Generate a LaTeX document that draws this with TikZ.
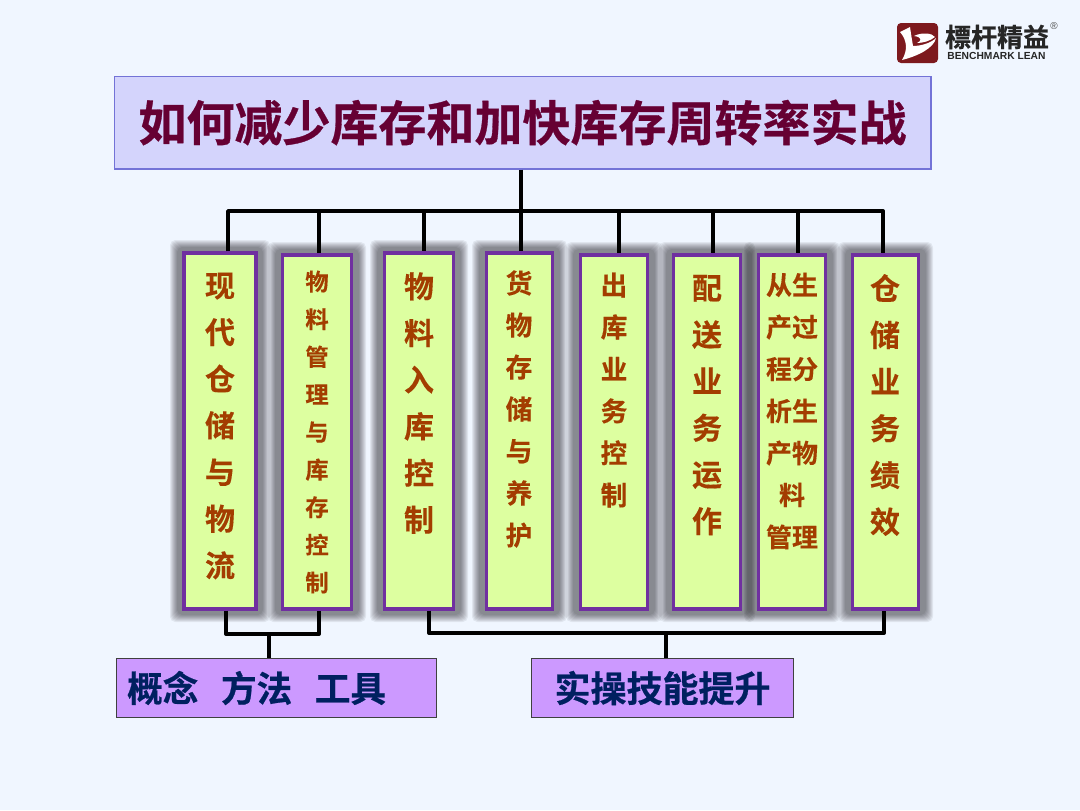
\documentclass[tikz,border=0pt]{standalone}
\usepackage{fontspec}
\setmainfont{Liberation Sans}
\newfontfamily\cjkbold[BoldFont={* Bold},BoldFeatures={FakeBold=0.3}]{Noto Sans CJK SC}
\newfontfamily\cjkheavy[BoldFont={* Bold},BoldFeatures={FakeBold=0.6}]{Noto Sans CJK SC}
\usetikzlibrary{positioning, calc}
\definecolor{cPage}{RGB}{240,246,255}
\definecolor{cTitle}{RGB}{212,212,252}
\definecolor{cTitleEdge}{RGB}{115,115,215}
\definecolor{cTitleText}{RGB}{102,0,51}
\definecolor{cColumn}{RGB}{221,255,160}
\definecolor{cColumnEdge}{RGB}{112,48,160}
\definecolor{cColumnText}{RGB}{163,61,0}
\definecolor{cTag}{RGB}{204,153,255}
\definecolor{cTagText}{RGB}{0,32,96}
\definecolor{cLogo}{RGB}{125,25,30}
\tikzset{
	colbox/.style  ={rectangle, draw=cColumnEdge, line width=2.3pt, fill=cColumn, minimum height=267pt},
	coltext/.style ={align=center, text=cColumnText, inner sep=0pt},
	tagbox/.style  ={rectangle, draw=black!75, line width=0.7pt, fill=cTag, minimum height=44pt, text=cTagText, inner sep=0pt},
	wire/.style    ={line width=2.9pt, draw=black, line join=round},
	halo/.style    ={fill=black, opacity=0.065, rounded corners=4pt},
}
\newcommand{\colfont}[2]{\fontsize{#1}{#2}\selectfont\cjkbold\bfseries}
\newcommand{\heavyfont}[2]{\fontsize{#1}{#2}\selectfont\cjkheavy\bfseries}
\begin{document}
\begin{tikzpicture}[x=0.75pt, y=-0.75pt]
	\useasboundingbox (0,0) rectangle (1080,810);
	\fill[cPage] (0,0) rectangle (1080,810);
	% blurred shadows behind the columns
	\foreach \xa/\xb/\ya in {183/257/253, 281/353/255, 383/455/253, 485/554/253, 579/649/255, 672/742/255, 757/827/255, 851/920/255}{
		\foreach \d in {13,12,11,10,9,8,7,6}{
			\fill[halo] (\xa-\d,\ya-\d) rectangle (\xb+\d,609+\d);
		}
	}
	% title
	\node[rectangle, draw=cTitleEdge, line width=1pt, fill=cTitle, minimum width=612.5pt, minimum height=69.5pt, text=cTitleText, font=\heavyfont{36}{36}, inner sep=0pt] (title) at (522.5,122.5) {\raisebox{-2.5pt}{如何减少库存和加快库存周转率实战}};
	% columns
	\node[colbox, minimum width=54pt] (c1) at (220,431) {};
	\node[colbox, minimum width=52pt, minimum height=265.5pt] (c2) at (317,432) {};
	\node[colbox, minimum width=52pt] (c3) at (419,431) {};
	\node[colbox, minimum width=50pt] (c4) at (519.5,431) {};
	\node[colbox, minimum width=50pt, minimum height=265.5pt] (c5) at (614,432) {};
	\node[colbox, minimum width=50pt, minimum height=265.5pt] (c6) at (707,432) {};
	\node[colbox, minimum width=50pt, minimum height=265.5pt] (c7) at (792,432) {};
	\node[colbox, minimum width=50pt, minimum height=265.5pt] (c8) at (885.5,432) {};
	\node[coltext, font=\colfont{22.5}{35}] (t1) at (220,426) {现\\代\\仓\\储\\与\\物\\流};
	\node[coltext, font=\colfont{17.5}{28.2}] (t2) at (317,432) {物\\料\\管\\理\\与\\库\\存\\控\\制};
	\node[coltext, font=\colfont{22.5}{35}] (t3) at (419,403) {物\\料\\入\\库\\控\\制};
	\node[coltext, font=\colfont{20}{31.5}] (t4) at (519,409) {货\\物\\存\\储\\与\\养\\护};
	\node[coltext, font=\colfont{20}{31.5}] (t5) at (614,390) {出\\库\\业\\务\\控\\制};
	\node[coltext, font=\colfont{22.5}{35}] (t6) at (707,405) {配\\送\\业\\务\\运\\作};
	\node[coltext, font=\colfont{19.5}{31.5}] (t7) at (792,411) {从生\\产过\\程分\\析生\\产物\\料\\管理};
	\node[coltext, font=\colfont{22.5}{35}] (t8) at (885,405) {仓\\储\\业\\务\\绩\\效};
	% lower tags
	\node[tagbox, minimum width=240.5pt, text width=224pt, align=left] (tag1) at (276.5,688) {\heavyfont{26.7}{27}概念\hspace{17pt}方法\hspace{17pt}工具};
	\node[tagbox, minimum width=197pt] (tag2) at (662.5,688) {\heavyfont{27}{27}实操技能提升};
	% top bus
	\coordinate (busL) at (228,211);
	\coordinate (busR) at (883,211);
	\coordinate (bus2) at (319,211);
	\coordinate (bus3) at (424,211);
	\coordinate (bus4) at (521,211);
	\coordinate (bus5) at (619,211);
	\coordinate (bus6) at (713,211);
	\coordinate (bus7) at (798,211);
	\draw[wire] (busL |- c1.north) -- (busL) -- (busR) -- (busR |- c8.north);
	\draw[wire] (bus4 |- title.south) -- (bus4 |- c4.north);
	\draw[wire] (bus2) -- (bus2 |- c2.north);
	\draw[wire] (bus3) -- (bus3 |- c3.north);
	\draw[wire] (bus5) -- (bus5 |- c5.north);
	\draw[wire] (bus6) -- (bus6 |- c6.north);
	\draw[wire] (bus7) -- (bus7 |- c7.north);
	% bottom brackets
	\coordinate (lowA) at (226,634);
	\coordinate (lowB) at (319,634);
	\coordinate (lowC) at (429,633);
	\coordinate (lowD) at (884,633);
	\coordinate (stemA) at (269,634);
	\coordinate (stemB) at (666,633);
	\draw[wire] (lowA |- c1.south) -- (lowA) -- (lowB) -- (lowB |- c2.south);
	\draw[wire] (lowC |- c3.south) -- (lowC) -- (lowD) -- (lowD |- c8.south);
	\draw[wire] (stemA) -- (stemA |- tag1.north);
	\draw[wire] (stemB) -- (stemB |- tag2.north);
	% logo
	\fill[cLogo, rounded corners=3pt] (897,23) rectangle (938,63);
	\fill[white] (900,32) -- (910,27) .. controls (911,34) and (912,40) .. (913,46) .. controls (921,46) and (931,43) .. (936,38) .. controls (934,48) and (918,56) .. (902,60) .. controls (908,50) and (907,40) .. (900,32);
	\fill[white] (914,36) .. controls (922,32) and (932,33) .. (935,37) .. controls (930,41) and (923,43) .. (917,43) .. controls (922,41) and (922,37) .. (914,36);
	\node[text=black!85, font=\heavyfont{19.5}{19.5}] (logotext) at (997,37) {標杆精益};
	\node[text=black!85, font=\fontsize{7.7}{8}\selectfont\bfseries] (logosub) at (996.5,55.5) {BENCHMARK LEAN};
	\node[text=black!70, font=\fontsize{7.5}{7.5}\selectfont] (logomark) at (1054,26) {®};
\end{tikzpicture}
\end{document}
